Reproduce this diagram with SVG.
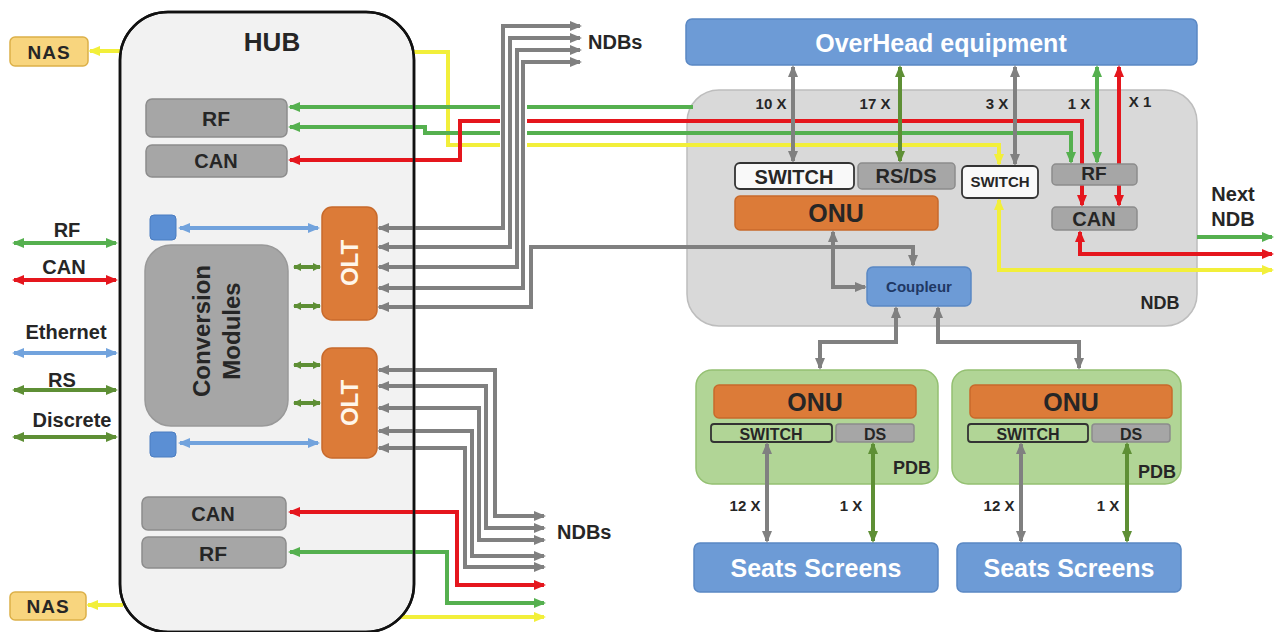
<svg xmlns="http://www.w3.org/2000/svg" width="1278" height="632" viewBox="0 0 1278 632">
<defs>
<style>
.t{font-family:"Liberation Sans",Arial,sans-serif;font-weight:bold;text-anchor:middle;dominant-baseline:central;fill:#262626}
.w{fill:#ffffff}
.gbox{fill:#a6a6a6;stroke:#8c8c8c;stroke-width:1.5}
.wbox{fill:#f9f9f9;stroke:#333333;stroke-width:1.8}
.blue{fill:#6d9bd6;stroke:#5a88c4;stroke-width:1.5}
.orange{fill:#dc7b38;stroke:#c86a2b;stroke-width:1.5}
.pdb{fill:#b1d596;stroke:#94c072;stroke-width:1.5}
.psw{fill:#b1d596;stroke:#333333;stroke-width:1.8}
.nas{fill:#f8d57e;stroke:#dcb048;stroke-width:1.5}
.ln{fill:none;stroke-width:4}
.gy{stroke:#808080}.gr{stroke:#55b04f}.dg{stroke:#5e8f35}.rd{stroke:#e5161d}.yl{stroke:#f2ef3a}.bl{stroke:#72a3dd}
</style>
<marker id="a-gy" viewBox="0 0 12 10" refX="10" refY="5" markerWidth="12" markerHeight="10" markerUnits="userSpaceOnUse" orient="auto-start-reverse"><path d="M0,0 L12,5 L0,10 z" fill="#808080"/></marker>
<marker id="a-gr" viewBox="0 0 12 10" refX="10" refY="5" markerWidth="12" markerHeight="10" markerUnits="userSpaceOnUse" orient="auto-start-reverse"><path d="M0,0 L12,5 L0,10 z" fill="#55b04f"/></marker>
<marker id="a-dg" viewBox="0 0 12 10" refX="10" refY="5" markerWidth="12" markerHeight="10" markerUnits="userSpaceOnUse" orient="auto-start-reverse"><path d="M0,0 L12,5 L0,10 z" fill="#5e8f35"/></marker>
<marker id="a-rd" viewBox="0 0 12 10" refX="10" refY="5" markerWidth="12" markerHeight="10" markerUnits="userSpaceOnUse" orient="auto-start-reverse"><path d="M0,0 L12,5 L0,10 z" fill="#e5161d"/></marker>
<marker id="a-yl" viewBox="0 0 12 10" refX="10" refY="5" markerWidth="12" markerHeight="10" markerUnits="userSpaceOnUse" orient="auto-start-reverse"><path d="M0,0 L12,5 L0,10 z" fill="#f2ef3a"/></marker>
<marker id="a-bl" viewBox="0 0 12 10" refX="10" refY="5" markerWidth="12" markerHeight="10" markerUnits="userSpaceOnUse" orient="auto-start-reverse"><path d="M0,0 L12,5 L0,10 z" fill="#72a3dd"/></marker>
<marker id="a-dgs" viewBox="0 0 8 8" refX="7" refY="4" markerWidth="8" markerHeight="8" markerUnits="userSpaceOnUse" orient="auto-start-reverse"><path d="M0,0 L8,4 L0,8 z" fill="#5e8f35"/></marker>
</defs>

<g id="hub">
<rect x="120" y="12" width="294" height="620" rx="48" fill="#f2f2f2" stroke="#111" stroke-width="2.5"/>
<text class="t" x="272" y="42" font-size="26">HUB</text>
</g>

<g id="nas-top"><rect class="nas" x="10" y="37" width="78" height="29" rx="5"/><text class="t" x="49" y="52" font-size="19" letter-spacing="1">NAS</text></g>
<g id="nas-bottom"><rect class="nas" x="10" y="592" width="76" height="28" rx="5"/><text class="t" x="48" y="606" font-size="19" letter-spacing="1">NAS</text></g>

<g id="ndb">
<rect x="687" y="90" width="510" height="236" rx="32" fill="#d9d9d9" stroke="#bdbdbd" stroke-width="1.5"/>
<text class="t" x="1160" y="303" font-size="18">NDB</text>
</g>

<g id="overhead"><rect class="blue" x="686" y="19" width="511" height="46" rx="6"/><text class="t w" x="941" y="43" font-size="25">OverHead equipment</text></g>

<g id="pdb1">
<rect class="pdb" x="696" y="370" width="242" height="114" rx="16"/>
<rect class="orange" x="714" y="385" width="202" height="33" rx="5"/><text class="t" x="815" y="402" font-size="25">ONU</text>
<rect class="psw" x="711" y="424" width="121" height="18" rx="3"/><text class="t" x="771" y="434" font-size="16">SWITCH</text>
<rect class="gbox" x="836" y="424" width="78" height="18" rx="3"/><text class="t" x="875" y="434" font-size="16">DS</text>
<text class="t" x="912" y="468" font-size="18">PDB</text>
</g>
<g id="pdb2">
<rect class="pdb" x="952" y="370" width="229" height="114" rx="16"/>
<rect class="orange" x="970" y="385" width="202" height="33" rx="5"/><text class="t" x="1071" y="402" font-size="25">ONU</text>
<rect class="psw" x="968" y="424" width="120" height="18" rx="3"/><text class="t" x="1028" y="434" font-size="16">SWITCH</text>
<rect class="gbox" x="1092" y="424" width="78" height="18" rx="3"/><text class="t" x="1131" y="434" font-size="16">DS</text>
<text class="t" x="1157" y="472" font-size="18">PDB</text>
</g>
<g id="seats1"><rect class="blue" x="694" y="543" width="244" height="49" rx="6"/><text class="t w" x="816" y="568" font-size="25">Seats Screens</text></g>
<g id="seats2"><rect class="blue" x="957" y="543" width="224" height="49" rx="6"/><text class="t w" x="1069" y="568" font-size="25">Seats Screens</text></g>

<g id="connectors">
<!-- left external links -->
<path class="ln gr" d="M14,243 H116" marker-start="url(#a-gr)" marker-end="url(#a-gr)"/>
<path class="ln rd" d="M14,280 H116" marker-start="url(#a-rd)" marker-end="url(#a-rd)"/>
<path class="ln bl" d="M14,353 H116" marker-start="url(#a-bl)" marker-end="url(#a-bl)"/>
<path class="ln dg" d="M14,390 H116" marker-start="url(#a-dg)" marker-end="url(#a-dg)"/>
<path class="ln dg" d="M14,437 H116" marker-start="url(#a-dg)" marker-end="url(#a-dg)"/>
<!-- NAS -->
<path class="ln yl" d="M120,51 H90" marker-end="url(#a-yl)"/>
<path class="ln yl" d="M123,605 H88" marker-end="url(#a-yl)"/>
<!-- hub internal -->
<path class="ln bl" d="M180,228 H318" marker-start="url(#a-bl)" marker-end="url(#a-bl)"/>
<path class="ln bl" d="M180,443 H318" marker-start="url(#a-bl)" marker-end="url(#a-bl)"/>
<path class="ln dg" d="M294,267 H320" stroke-width="3" marker-start="url(#a-dgs)" marker-end="url(#a-dgs)"/>
<path class="ln dg" d="M294,306 H320" stroke-width="3" marker-start="url(#a-dgs)" marker-end="url(#a-dgs)"/>
<path class="ln dg" d="M294,365 H320" stroke-width="3" marker-start="url(#a-dgs)" marker-end="url(#a-dgs)"/>
<path class="ln dg" d="M294,403 H320" stroke-width="3" marker-start="url(#a-dgs)" marker-end="url(#a-dgs)"/>
<!-- top colored links -->
<path class="ln yl" d="M413,52 H448 V145 H999 V164" marker-end="url(#a-yl)"/>
<path class="ln gr" d="M693,107 H290" marker-end="url(#a-gr)"/>
<path class="ln gr" d="M290,127 H425 V133 H1071 V162" marker-start="url(#a-gr)" marker-end="url(#a-gr)"/>
<path class="ln rd" d="M290,160 H460 V121 H1082 V205" marker-start="url(#a-rd)" marker-end="url(#a-rd)"/>
<!-- NDB outputs -->
<path class="ln yl" d="M999,200 V270 H1272" marker-start="url(#a-yl)" marker-end="url(#a-yl)"/>
<path class="ln rd" d="M1080,232 V254 H1272" marker-start="url(#a-rd)" marker-end="url(#a-rd)"/>
<path class="ln gr" d="M1197,237 H1272" marker-end="url(#a-gr)"/>
<!-- overhead links -->
<path class="ln gy" d="M793,67 V161" marker-start="url(#a-gy)" marker-end="url(#a-gy)"/>
<path class="ln dg" d="M900,67 V161" marker-start="url(#a-dg)" marker-end="url(#a-dg)"/>
<path class="ln gy" d="M1015,67 V164" marker-start="url(#a-gy)" marker-end="url(#a-gy)"/>
<path class="ln gr" d="M1097,67 V162" marker-start="url(#a-gr)" marker-end="url(#a-gr)"/>
<path class="ln rd" d="M1119,67 V205" marker-start="url(#a-rd)" marker-end="url(#a-rd)"/>
<!-- white gap under gray bundle -->
<rect x="500" y="100" width="27" height="50" fill="#ffffff"/>
<!-- OLT1 links -->
<path class="ln gy" d="M379,228 H503 V26 H580" marker-start="url(#a-gy)" marker-end="url(#a-gy)"/>
<path class="ln gy" d="M379,247 H510 V38 H580" marker-start="url(#a-gy)" marker-end="url(#a-gy)"/>
<path class="ln gy" d="M379,267 H517 V50 H580" marker-start="url(#a-gy)" marker-end="url(#a-gy)"/>
<path class="ln gy" d="M379,288 H523 V62 H580" marker-start="url(#a-gy)" marker-end="url(#a-gy)"/>
<path class="ln gy" d="M379,307 H531 V247 H913 V265" marker-start="url(#a-gy)" marker-end="url(#a-gy)"/>
<!-- OLT2 links -->
<path class="ln gy" d="M379,370 H495 V516 H544" marker-start="url(#a-gy)" marker-end="url(#a-gy)"/>
<path class="ln gy" d="M379,386 H486 V528 H544" marker-start="url(#a-gy)" marker-end="url(#a-gy)"/>
<path class="ln gy" d="M379,408 H479 V540 H544" marker-start="url(#a-gy)" marker-end="url(#a-gy)"/>
<path class="ln gy" d="M379,431 H472 V556 H544" marker-start="url(#a-gy)" marker-end="url(#a-gy)"/>
<path class="ln gy" d="M379,448 H465 V567 H544" marker-start="url(#a-gy)" marker-end="url(#a-gy)"/>
<!-- bottom colored links -->
<path class="ln rd" d="M290,512 H457 V585 H544" marker-start="url(#a-rd)" marker-end="url(#a-rd)"/>
<path class="ln gr" d="M290,552 H447 V603 H544" marker-start="url(#a-gr)" marker-end="url(#a-gr)"/>
<path class="ln yl" d="M401,617 H544" marker-end="url(#a-yl)"/>
<!-- coupleur links -->
<path class="ln gy" d="M833,232 V287 H865" marker-start="url(#a-gy)" marker-end="url(#a-gy)"/>
<path class="ln gy" d="M896,308 V342 H820 V368" marker-start="url(#a-gy)" marker-end="url(#a-gy)"/>
<path class="ln gy" d="M938,308 V342 H1079 V368" marker-start="url(#a-gy)" marker-end="url(#a-gy)"/>
<!-- PDB to seats -->
<path class="ln gy" d="M767,444 V541" marker-start="url(#a-gy)" marker-end="url(#a-gy)"/>
<path class="ln dg" d="M873,444 V541" marker-start="url(#a-dg)" marker-end="url(#a-dg)"/>
<path class="ln gy" d="M1021,444 V541" marker-start="url(#a-gy)" marker-end="url(#a-gy)"/>
<path class="ln dg" d="M1127,444 V541" marker-start="url(#a-dg)" marker-end="url(#a-dg)"/>
</g>

<g id="connector-labels">
<text class="t" x="67" y="230" font-size="20" fill="#333">RF</text>
<text class="t" x="64" y="267" font-size="20">CAN</text>
<text class="t" x="66" y="332" font-size="20">Ethernet</text>
<text class="t" x="62" y="380" font-size="20">RS</text>
<text class="t" x="72" y="420" font-size="20">Discrete</text>
<text class="t" x="588" y="42" font-size="20" style="text-anchor:start">NDBs</text>
<text class="t" x="557" y="532" font-size="20" style="text-anchor:start">NDBs</text>
<text class="t" x="771" y="103" font-size="15">10 X</text>
<text class="t" x="875" y="103" font-size="15">17 X</text>
<text class="t" x="997" y="103" font-size="15">3 X</text>
<text class="t" x="1079" y="103" font-size="15">1 X</text>
<text class="t" x="1140" y="101" font-size="15">X 1</text>
<text class="t" x="1233" y="194" font-size="20">Next</text>
<text class="t" x="1233" y="219" font-size="20">NDB</text>
<text class="t" x="745" y="505" font-size="15">12 X</text>
<text class="t" x="851" y="505" font-size="15">1 X</text>
<text class="t" x="999" y="505" font-size="15">12 X</text>
<text class="t" x="1108" y="505" font-size="15">1 X</text>
</g>

<g id="hub-rf-top"><rect class="gbox" x="146" y="99" width="141" height="38" rx="6"/><text class="t" x="216" y="118" font-size="21">RF</text></g>
<g id="hub-can-top"><rect class="gbox" x="146" y="145" width="141" height="32" rx="6"/><text class="t" x="216" y="161" font-size="20">CAN</text></g>
<g id="eth-port-top"><rect x="150" y="215" width="26" height="25" rx="4" fill="#5b8fd4" stroke="#4a7cc0"/></g>
<g id="eth-port-bottom"><rect x="150" y="432" width="26" height="25" rx="4" fill="#5b8fd4" stroke="#4a7cc0"/></g>
<g id="conversion"><rect x="145" y="245" width="143" height="181" rx="26" fill="#a6a6a6" stroke="#999" stroke-width="1.5"/>
<text class="t" font-size="24" transform="translate(216,331) rotate(-90)"><tspan x="0" y="-15">Conversion</tspan><tspan x="0" y="15">Modules</tspan></text></g>
<g id="olt1"><rect class="orange" x="322" y="207" width="55" height="113" rx="10"/><text class="t" font-size="24" fill="#fff6ea" style="fill:#fff6ea" transform="translate(349,263) rotate(-90)">OLT</text></g>
<g id="olt2"><rect class="orange" x="322" y="348" width="55" height="110" rx="10"/><text class="t" font-size="24" style="fill:#fff6ea" transform="translate(349,403) rotate(-90)">OLT</text></g>
<g id="hub-can-bottom"><rect class="gbox" x="142" y="497" width="144" height="33" rx="6"/><text class="t" x="213" y="514" font-size="20">CAN</text></g>
<g id="hub-rf-bottom"><rect class="gbox" x="142" y="537" width="144" height="31" rx="6"/><text class="t" x="213" y="553" font-size="21">RF</text></g>

<g id="ndb-switch1"><rect class="wbox" x="735" y="163" width="119" height="26" rx="5"/><text class="t" x="794" y="177" font-size="20">SWITCH</text></g>
<g id="ndb-rsds"><rect class="gbox" x="858" y="163" width="97" height="26" rx="4"/><text class="t" x="906" y="176" font-size="20">RS/DS</text></g>
<g id="ndb-switch2"><rect class="wbox" x="962" y="166" width="76" height="32" rx="5"/><text class="t" x="1000" y="181" font-size="15">SWITCH</text></g>
<g id="ndb-rf"><rect class="gbox" x="1052" y="164" width="85" height="21" rx="4"/><text class="t" x="1094" y="173" font-size="19">RF</text></g>
<g id="ndb-can"><rect class="gbox" x="1052" y="207" width="85" height="23" rx="4"/><text class="t" x="1094" y="219" font-size="20">CAN</text></g>
<g id="ndb-onu"><rect class="orange" x="735" y="196" width="203" height="34" rx="5"/><text class="t" x="836" y="213" font-size="25">ONU</text></g>
<g id="coupleur"><rect class="blue" x="867" y="267" width="104" height="39" rx="6"/><text class="t" x="919" y="286" font-size="15" style="fill:#1f3864">Coupleur</text></g>

<g id="hub-border"><rect x="120" y="12" width="294" height="620" rx="48" fill="none" stroke="#111" stroke-width="2.5"/></g>
</svg>
